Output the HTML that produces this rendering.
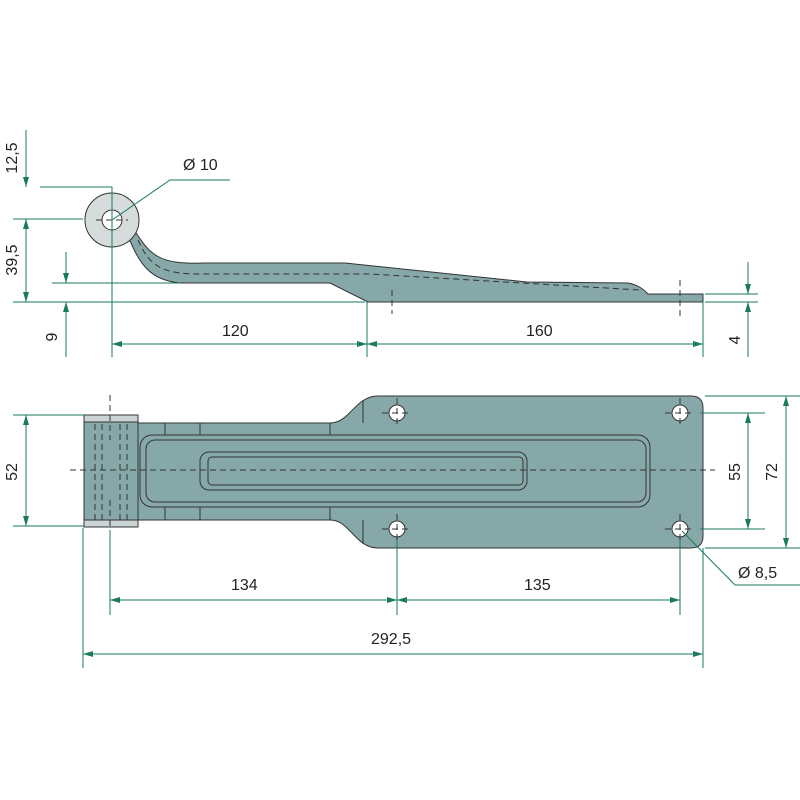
<!DOCTYPE html>
<html><head><meta charset="utf-8"><style>html,body{margin:0;padding:0;background:#fff}svg{display:block}</style></head>
<body>
<svg width="800" height="800" viewBox="0 0 800 800" xmlns="http://www.w3.org/2000/svg" font-family="Liberation Sans, sans-serif" font-size="16" fill="#222">
<defs>
<marker id="a" viewBox="0 0 10 6" refX="10" refY="3" markerWidth="10" markerHeight="6" orient="auto-start-reverse" markerUnits="userSpaceOnUse"><path d="M0,0L10,3L0,6z" fill="#1a7a60"/></marker>
</defs>
<!-- SIDE VIEW -->
<g stroke="#333" stroke-width="1" fill="#87a8a8">
<path d="M133,228 C150,255 158,265 205,263 L345,263 L527,282 L628,283 Q640,285 648,294 L703,294 L703,302 L368,302 L330,283 L180,283 C150,280 140,265 128,236 Z"/>
<circle cx="112" cy="220" r="27" fill="#d6dcdc"/>
<circle cx="112" cy="220" r="10" fill="#fff"/>
</g>
<g stroke="#333" stroke-width="1" fill="none" stroke-dasharray="6,4">
<path d="M138,240 C150,268 165,274 200,274 L370,274 L640,290"/>
<path d="M392,290V314M680,280V320M96,220H128M112,204V236"/>
</g>
<!-- TOP VIEW -->
<g stroke="#333" stroke-width="1" fill="#87a8a8">
<path d="M138,423 L330,423 C350,423 355,396 378,396 L691,396 Q703,396 703,408 L703,536 Q703,548 691,548 L378,548 C355,548 350,520 330,520 L138,520 Z"/>
<rect x="84" y="422" width="54" height="98"/>
<rect x="84" y="415" width="54" height="7" fill="#ccd5d5"/>
<rect x="84" y="520" width="54" height="7" fill="#ccd5d5"/>
<rect x="140" y="435" width="510" height="72" rx="12"/>
<rect x="146" y="440" width="500" height="62" rx="9"/>
<rect x="200" y="452" width="327" height="38" rx="9"/>
<rect x="208" y="457" width="315" height="28" rx="4"/>
<path d="M165,423V435M200,423V435M330,423V435M165,507V520M200,507V520M330,507V520M363,400V423M363,520V544" fill="none"/>
<circle cx="397" cy="413" r="8" fill="#fff"/><circle cx="397" cy="529" r="8" fill="#fff"/>
<circle cx="680" cy="413" r="8" fill="#fff"/><circle cx="680" cy="529" r="8" fill="#fff"/>
</g>
<g stroke="#333" stroke-width="1" fill="none" stroke-dasharray="6,4">
<path d="M70,470H715M110,395V440M110,500V545M95,424V520M102,424V520M120,424V520M127,424V520"/>
<path d="M382,413H412M397,398V428M382,529H412M397,514V544M665,413H695M680,398V428M665,529H695M680,514V544"/>
</g>
<!-- DIMENSIONS -->
<g stroke="#1a7a60" stroke-width="1" fill="none">
<path d="M40,187H112M13,219H83M13,302H365M52,283H180M112,187V357M367,302V357M703,302V357M705,294H758M705,302H758"/>
<path d="M26,130V187" marker-end="url(#a)"/>
<path d="M26,219V302" marker-start="url(#a)" marker-end="url(#a)"/>
<path d="M66,252V283" marker-end="url(#a)"/>
<path d="M66,357V302" marker-end="url(#a)"/>
<path d="M748,262V294" marker-end="url(#a)"/>
<path d="M748,357V302" marker-end="url(#a)"/>
<path d="M112,344H367" marker-start="url(#a)" marker-end="url(#a)"/>
<path d="M367,344H703" marker-start="url(#a)" marker-end="url(#a)"/>
<path d="M112,220L170,180H230"/>
<path d="M13,415H84M13,526H84M700,413H765M700,529H765M705,396H800M705,548H800"/>
<path d="M83,528V668M110,530V615M397,540V615M680,540V615M703,548V668"/>
<path d="M26,415V526" marker-start="url(#a)" marker-end="url(#a)"/>
<path d="M748,413V529" marker-start="url(#a)" marker-end="url(#a)"/>
<path d="M786,396V548" marker-start="url(#a)" marker-end="url(#a)"/>
<path d="M110,600H397" marker-start="url(#a)" marker-end="url(#a)"/>
<path d="M397,600H680" marker-start="url(#a)" marker-end="url(#a)"/>
<path d="M83,654H703" marker-start="url(#a)" marker-end="url(#a)"/>
<path d="M735,585L682,531"/><path d="M735,585H800"/>
</g>
<text x="183" y="170">Ø 10</text>
<text x="222" y="336">120</text>
<text x="526" y="336">160</text>
<text x="231" y="590">134</text>
<text x="524" y="590">135</text>
<text x="371" y="644">292,5</text>
<text x="738" y="578">Ø 8,5</text>
<text transform="translate(17,158) rotate(-90)" text-anchor="middle">12,5</text>
<text transform="translate(17,260) rotate(-90)" text-anchor="middle">39,5</text>
<text transform="translate(57,337) rotate(-90)" text-anchor="middle">9</text>
<text transform="translate(740,340) rotate(-90)" text-anchor="middle">4</text>
<text transform="translate(17,472) rotate(-90)" text-anchor="middle">52</text>
<text transform="translate(740,472) rotate(-90)" text-anchor="middle">55</text>
<text transform="translate(777,472) rotate(-90)" text-anchor="middle">72</text>
</svg>
</body></html>
